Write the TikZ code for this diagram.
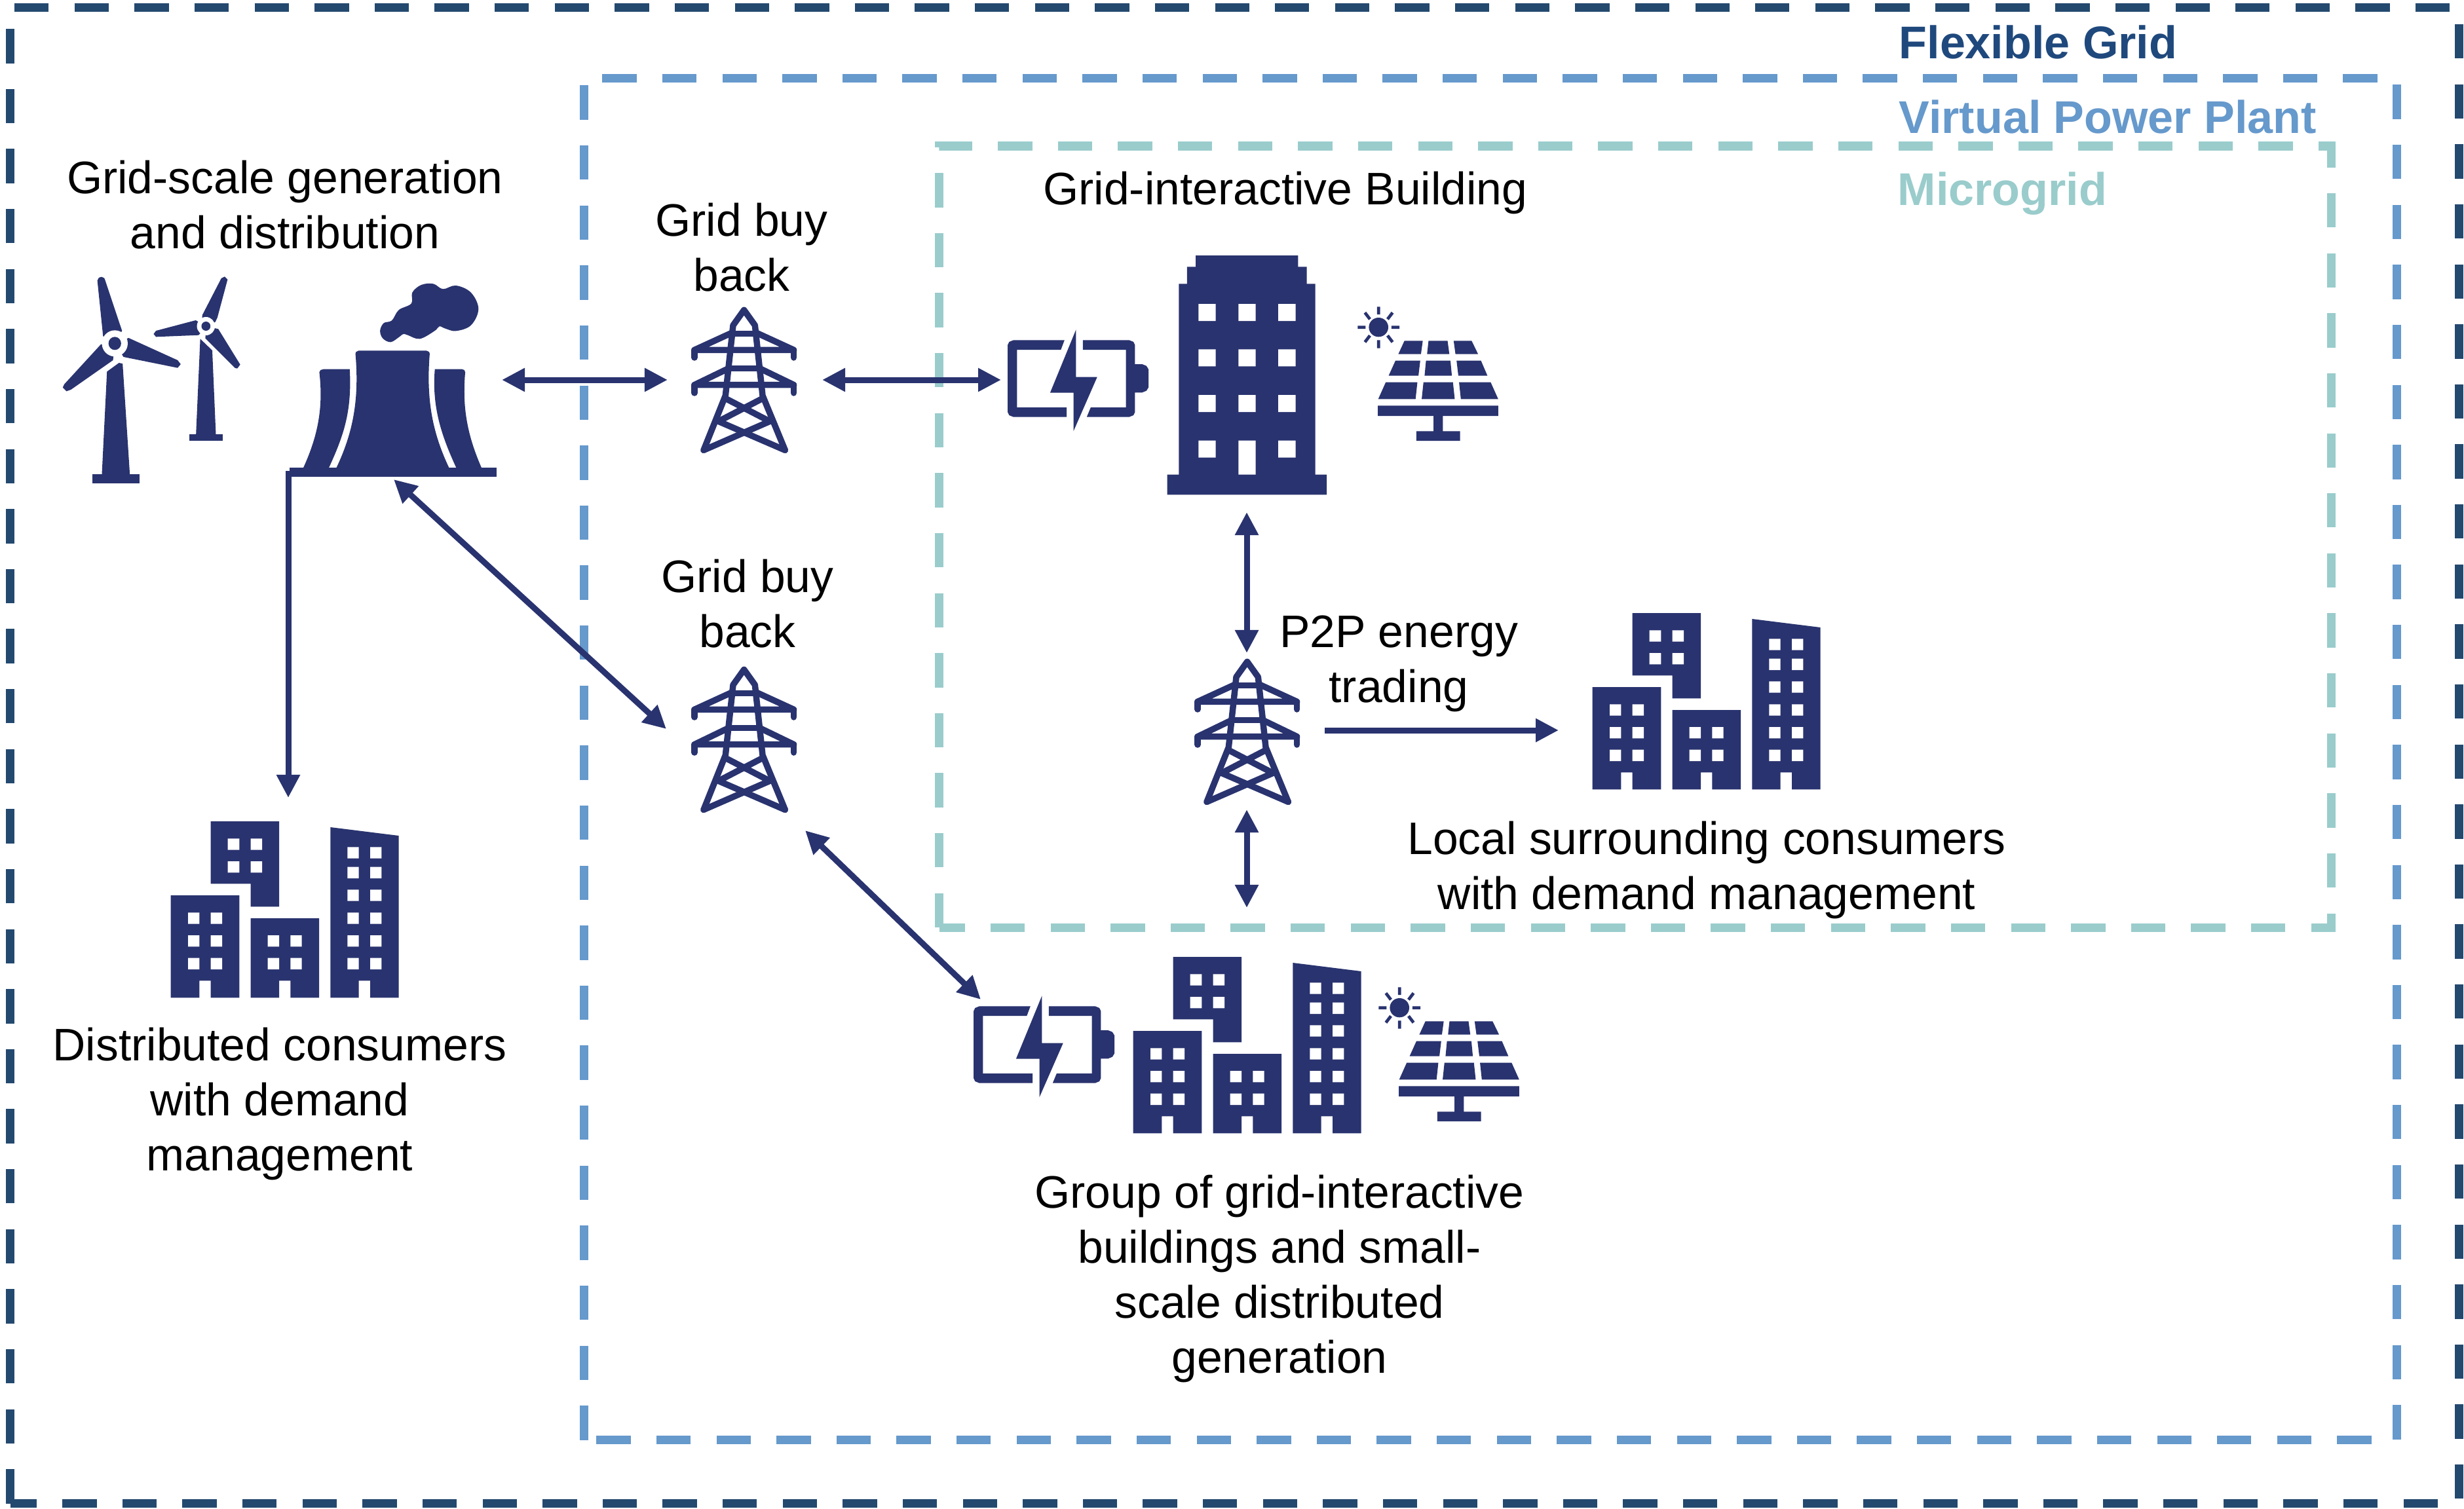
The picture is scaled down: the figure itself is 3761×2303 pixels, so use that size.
\documentclass[tikz,border=0pt]{standalone}
\usepackage{fontspec}
\setmainfont{Liberation Sans}
\usetikzlibrary{arrows.meta}
\definecolor{icon}{HTML}{29336F}
\definecolor{gridc}{HTML}{24496F}
\definecolor{vppc}{HTML}{6699CC}
\definecolor{mgc}{HTML}{9ACCCC}
\definecolor{fgtext}{HTML}{1F497D}
\tikzset{
  frame/.style={line width=.13cm,dash pattern=on .523cm off .3927cm,miter limit=10},
  lbl/.style={inner sep=0,align=center,anchor=north,text=black,font=\fontsize{19.8}{23.9}\selectfont},
  legendlbl/.style={inner sep=0,anchor=base west,font=\fontsize{19.92}{23.9}\selectfont\bfseries},
  link/.style={draw=icon,line width=.09cm,>={Triangle[length=3.5mm,width=3.4mm]}},
  towerpic/.pic={
    \begin{scope}[scale=1/3,draw=icon,line width=.095cm,line join=round,line cap=round]
      \draw (222,742)--(322,492)--(357,170)--(407,100)--(457,170)--(492,492)--(595,742);
      \draw (350,208)--(465,208);
      \draw (350,205)--(180,283)--(635,283)--(465,205);
      \draw (180,283)--(180,318) (635,283)--(635,318);
      \draw (335,368)--(480,368);
      \draw (335,368)--(180,443)--(635,443)--(480,368);
      \draw (180,443)--(180,480) (635,443)--(635,480);
      \draw (322,505)--(525,610)--(222,742);
      \draw (492,505)--(290,610)--(595,742);
    \end{scope}
  },
  citypic/.pic={
    \begin{scope}[scale=1/3,fill=icon]
      \fill (275,48)--(588,48)--(588,439)--(458,439)--(458,334)--(275,334)--cycle;
      \fill (92,387)--(406,387)--(406,856)--(275,856)--(275,778)--(223,778)--(223,856)--(92,856)--cycle;
      \fill (458,492)--(771,492)--(771,856)--(640,856)--(640,778)--(588,778)--(588,856)--(458,856)--cycle;
      \fill (823,75)--(1136,114)--(1136,856)--(1005,856)--(1005,778)--(953,778)--(953,856)--(823,856)--cycle;
      \fill[white]
        (353,127) rectangle (406,179) (458,127) rectangle (510,179)
        (353,231) rectangle (406,283) (458,231) rectangle (510,283)
        (171,466) rectangle (223,518) (275,466) rectangle (327,518)
        (171,570) rectangle (223,622) (275,570) rectangle (327,622)
        (171,674) rectangle (223,726) (275,674) rectangle (327,726)
        (536,570) rectangle (588,622) (640,570) rectangle (692,622)
        (536,674) rectangle (588,726) (640,674) rectangle (692,726)
        (901,166) rectangle (953,218) (1005,166) rectangle (1057,218)
        (901,257) rectangle (953,309) (1005,257) rectangle (1057,309)
        (901,361) rectangle (953,413) (1005,361) rectangle (1057,413)
        (901,466) rectangle (953,518) (1005,466) rectangle (1057,518)
        (901,570) rectangle (953,622) (1005,570) rectangle (1057,622)
        (901,674) rectangle (953,726) (1005,674) rectangle (1057,726);
    \end{scope}
  },
  batterypic/.pic={
    \begin{scope}[xscale=1/1.823,yscale=1/3]
      \fill[icon] (264,478)--(122,478)--(110,486)--(106,500)--(106,808)--(110,822)--(122,830)--(270,830)--(270,786)--(132,786)--(132,522)--(254,522)--cycle;
      \fill[icon] (315,478)--(444,478)--(456,486)--(460,500)--(460,588)--(480,588)--(492,596)--(498,612)--(498,694)--(492,710)--(480,718)--(460,718)--(460,808)--(456,822)--(444,830)--(326,830)--(337,786)--(435,786)--(435,522)--(315,522)--cycle;
      \fill[icon] (296,430)--(296,647)--(355,647)--(289,895)--(289,719)--(224,719)--cycle;
    \end{scope}
  },
  solarpic/.pic={
    \begin{scope}[xscale=1/1.823,yscale=1/3]
      \fill[icon] (1138,419) ellipse [x radius=27,y radius=44];
      \draw[icon,line width=.047cm]
        (1138,325)--(1138,360) (1138,478)--(1138,515)
        (1080,419)--(1102,419) (1174,419)--(1196,419)
        (1100,352)--(1114,382) (1177,352)--(1163,382)
        (1100,487)--(1114,457) (1177,487)--(1163,457);
      \fill[icon]
        (1210,481)--(1261,481)--(1256,542)--(1193,542)--cycle
        (1277,481)--(1330,481)--(1335,542)--(1273,542)--cycle
        (1347,481)--(1397,481)--(1415,542)--(1352,542)--cycle
        (1185,572)--(1254,572)--(1249,641)--(1166,641)--cycle
        (1270,572)--(1338,572)--(1342,641)--(1266,641)--cycle
        (1355,572)--(1423,572)--(1441,641)--(1360,641)--cycle
        (1158,671)--(1246,671)--(1241,748)--(1137,748)--cycle
        (1263,671)--(1345,671)--(1350,748)--(1258,748)--cycle
        (1362,671)--(1450,671)--(1471,748)--(1367,748)--cycle
        (1136,778) rectangle (1471,825)
        (1291,825) rectangle (1317,895)
        (1243,895) rectangle (1365,939);
    \end{scope}
  }
}
\begin{document}
\begin{tikzpicture}[x=.01cm,y=-.01cm]
\useasboundingbox (0,0) rectangle (3761,2303);

% dashed boundaries
\draw[frame,draw=gridc] (15.5,2295.5)--(15.5,11.5)--(3753,11.5)--(3753,2295.5)--cycle;
\draw[frame,draw=vppc] (891,2198.5)--(891,119.5)--(3658,119.5)--(3658,2198.5)--cycle;
\draw[frame,draw=mgc] (1433.5,1416)--(1433.5,223)--(3558.5,223)--(3558.5,1416)--cycle;

% legend
\node[legendlbl,text=fgtext] (lgrid) at (2898,90) {Flexible Grid};
\node[legendlbl,text=vppc] (lvpp) at (2898,203) {Virtual Power Plant};
\node[legendlbl,text=mgc] (lmg) at (2896,313) {Microgrid};

% wind turbines and power plant
\begin{scope}[shift={(60,380)},xscale=1/2.178,yscale=1/3]
  \fill[icon] (176,1033) rectangle (333,1075);
  \fill[icon] (208,1033)--(225,562)--(265,522)--(277,526)--(301,1033)--cycle;
  \fill[icon] (193,145)--(198,132)--(207,128)--(216,134)--(218,140)--(275,375)--(251,433)--(212,400)--cycle;
  \fill[icon] (297,408)--(460,510)--(470,528)--(460,545)--(280,495)--(251,433)--cycle;
  \fill[icon] (205,437)--(83,620)--(78,635)--(90,652)--(105,645)--(245,510)--(251,433)--cycle;
  \fill[white] (251,433) ellipse [x radius=43,y radius=60];
  \fill[icon] (251,433) ellipse [x radius=21,y radius=30];
  \fill[icon] (498,849) rectangle (610,880);
  \fill[icon] (521,849)--(535,412)--(575,465)--(587,849)--cycle;
  \fill[icon] (542,303)--(605,135)--(616,127)--(626,140)--(592,315)--(585,335)--(554,354)--(541,320)--cycle;
  \fill[icon] (520,327)--(388,375)--(380,390)--(388,403)--(530,395)--(554,354)--cycle;
  \fill[icon] (595,367)--(668,530)--(658,548)--(650,545)--(552,410)--(554,354)--cycle;
  \fill[white] (554,354) ellipse [x radius=30,y radius=42];
  \fill[icon] (554,354) ellipse [x radius=15,y radius=21];
  \fill[icon] (833,1002) rectangle (1521,1043);
  \fill[icon] (1051,480)--(1053,472)--(1062,466)--(1287,466)--(1296,472)--(1298,480)
     .. controls (1285,700) and (1310,850) .. (1362,1002)--(988,1002)
     .. controls (1040,850) and (1065,700) .. (1051,480)--cycle;
  \fill[icon] (931,565)--(935,555)--(945,551)--(1032,551)
     .. controls (1040,750) and (1010,860) .. (963,1002)--(878,1002)
     .. controls (925,860) and (945,730) .. (931,565)--cycle;
  \fill[icon] (1315,551)--(1405,551)--(1413,555)--(1416,565)
     .. controls (1405,730) and (1425,860) .. (1470,1002)--(1386,1002)
     .. controls (1335,850) and (1305,720) .. (1315,551)--cycle;
  \fill[icon] plot[smooth cycle,tension=.6] coordinates {(1133,375) (1145,340) (1172,328) (1195,280) (1237,250) (1240,200) (1270,165) (1310,160) (1342,184) (1385,168) (1435,200) (1460,275) (1435,350) (1385,376) (1350,365) (1330,355) (1315,375) (1265,412) (1225,395) (1210,390) (1195,405) (1168,427) (1142,410)};
\end{scope}

% main building
\begin{scope}[shift={(1480,360)},xscale=1/1.823,yscale=1/3]
  \fill[icon] (629,90)--(914,90)--(914,142)--(938,142)--(938,220)--(962,220)--(962,1094)--(994,1094)--(994,1186)--(550,1186)--(550,1094)--(582,1094)--(582,220)--(605,220)--(605,142)--(629,142)--cycle;
  \fill[white]
    (637,312) rectangle (685,390) (748,312) rectangle (796,390) (859,312) rectangle (907,390)
    (637,520) rectangle (685,598) (748,520) rectangle (796,598) (859,520) rectangle (907,598)
    (637,729) rectangle (685,807) (748,729) rectangle (796,807) (859,729) rectangle (907,807)
    (637,938) rectangle (685,1016) (748,938) rectangle (796,1094) (859,938) rectangle (907,1016);
\end{scope}

% repeated icons
\pic (tower1) at (1000,440) {towerpic};
\pic (tower2) at (1000,989) {towerpic};
\pic (tower3) at (1768,977) {towerpic};
\pic (city1) at (2400,920) {citypic};
\pic (city2) at (230,1238) {citypic};
\pic (city3) at (1699,1445) {citypic};
\pic (batt1) at (1480,360) {batterypic};
\pic (batt2) at (1428,1377) {batterypic};
\pic (solar1) at (1480,360) {solarpic};
\pic (solar2) at (1512,1399) {solarpic};

% connector ends
\coordinate (plantR) at (766,580);
\coordinate (towerOneL) at (1019,580);
\coordinate (towerOneR) at (1255,580);
\coordinate (battOneL) at (1528,580);
\coordinate (plantB) at (440,719);
\coordinate (cityTwoT) at (440,1218);
\coordinate (plantS) at (601,732);
\coordinate (towerTwoL) at (1017,1113);
\coordinate (towerTwoB) at (1229,1268);
\coordinate (battTwoT) at (1497,1526);
\coordinate (bldgB) at (1903,782);
\coordinate (towerThreeT) at (1903,997);
\coordinate (towerThreeB) at (1903,1236);
\coordinate (frameB) at (1903,1386);
\coordinate (towerThreeR) at (2022,1115);
\coordinate (cityOneL) at (2379,1115);

% connectors
\draw[link,<->] (plantR)--(towerOneL);
\draw[link,<->] (towerOneR)--(battOneL);
\draw[link,->] (plantB)--(cityTwoT);
\draw[link,<->] (plantS)--(towerTwoL);
\draw[link,<->] (towerTwoB)--(battTwoT);
\draw[link,<->] (bldgB)--(towerThreeT);
\draw[link,<->] (towerThreeB)--(frameB);
\draw[link,->] (towerThreeR)--(cityOneL);

% labels
\node[lbl] (tgen) at (435,244.5) {Grid-scale generation\\and distribution};
\node[lbl] (tbuy1) at (1132,309.5) {Grid buy\\back};
\node[lbl] (tbuy2) at (1141,853.5) {Grid buy\\back};
\node[lbl] (tgib) at (1962,261.5) {Grid-interactive Building};
\node[lbl] (tp2p) at (2135,939.5) {P2P energy\\trading};
\node[lbl] (tlocal) at (2605,1253.5) {Local surrounding consumers\\with demand management};
\node[lbl] (tdist) at (427,1568.5) {Distributed consumers\\with demand\\management};
\node[lbl] (tgroup) at (1953,1793.5) {Group of grid-interactive\\buildings and small-\\scale distributed\\generation};
\end{tikzpicture}
\end{document}
